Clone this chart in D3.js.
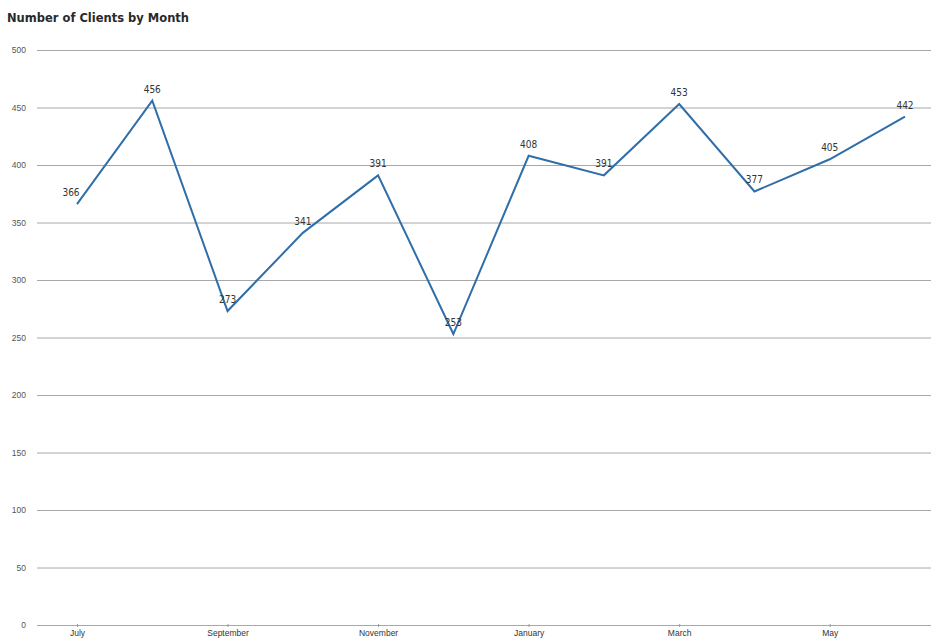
<!DOCTYPE html>
<html>
<head>
<meta charset="utf-8">
<script src="https://cdn.jsdelivr.net/npm/d3@7"></script>
<style>
  html, body { margin: 0; padding: 0; background: #fff; }
  svg { display: block; font-family: "DejaVu Sans Condensed", "DejaVu Sans", sans-serif; }
</style>
</head>
<body>
<svg id="chart" width="931" height="643"></svg>
<script>
// Monthly client counts, fiscal year July to June
const months = ["July", "August", "September", "October", "November", "December",
                "January", "February", "March", "April", "May", "June"];
const clients = [366, 456, 273, 341, 391, 253, 408, 391, 453, 377, 405, 442];
const yTicks = [0, 50, 100, 150, 200, 250, 300, 350, 400, 450, 500];
const xTickLabels = ["July", "September", "November", "January", "March", "May"];

const svg = d3.select("#chart");
const W = 931;
const margin = { left: 37, right: 0, top: 50, bottom: 18 };
const plotBottom = 625;

const x = d3.scalePoint()
  .domain(months)
  .range([77, 905]);

const y = d3.scaleLinear()
  .domain([0, 500])
  .range([plotBottom, margin.top]);

// Title
svg.append("text")
  .attr("x", 7)
  .attr("y", 22)
  .attr("font-family", "'DejaVu Sans', sans-serif")
  .attr("font-size", 11.5)
  .attr("font-weight", "bold")
  .attr("fill", "#2a2a2a")
  .text("Number of Clients by Month");

// Horizontal gridlines with value labels
const yAxis = d3.axisLeft(y)
  .tickValues(yTicks)
  .tickSize(-(W - margin.left))
  .tickPadding(11)
  .tickFormat(d3.format("d"));

const gy = svg.append("g")
  .attr("transform", `translate(${margin.left},0)`)
  .call(yAxis);
gy.select(".domain").remove();
gy.selectAll(".tick line")
  .attr("stroke", "#a8a8a8")
  .attr("stroke-width", 1);
gy.selectAll(".tick text")
  .attr("font-size", 8.5)
  .attr("fill", "#555");

// Month labels along the bottom
const xAxis = d3.axisBottom(x)
  .tickValues(xTickLabels)
  .tickSize(3)
  .tickPadding(3);

const gx = svg.append("g")
  .attr("transform", `translate(0,${plotBottom - 1})`)
  .call(xAxis);
gx.select(".domain").remove();
gx.selectAll(".tick line").attr("stroke", "#999");
gx.selectAll(".tick text")
  .attr("font-size", 8.5)
  .attr("fill", "#333");

// Client line
const line = d3.line()
  .x((d, i) => x(months[i]))
  .y(d => y(d));

svg.append("path")
  .datum(clients)
  .attr("fill", "none")
  .attr("stroke", "#2f6ea8")
  .attr("stroke-width", 2)
  .attr("stroke-linejoin", "miter")
  .attr("d", line);

// Value labels above each point
svg.append("g")
  .selectAll("text")
  .data(clients)
  .join("text")
  .attr("x", (d, i) => x(months[i]) - (i === 0 ? 6 : 0))
  .attr("y", d => y(d) - 8)
  .attr("text-anchor", "middle")
  .attr("font-size", 10)
  .attr("fill", "#333")
  .text(d => d);
</script>
</body>
</html>
